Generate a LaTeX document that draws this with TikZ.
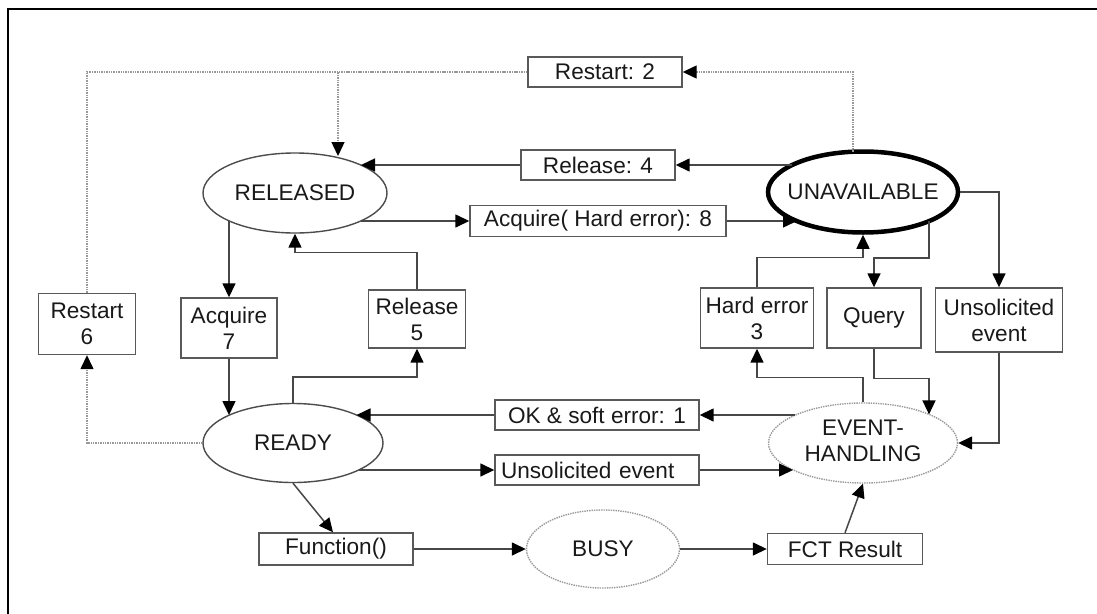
\documentclass[tikz,border=0pt]{standalone}
\usepackage{fontspec}
\setmainfont{Liberation Sans}
\usetikzlibrary{shapes.geometric,arrows.meta,calc}
\begin{document}
\begin{tikzpicture}[x=1pt,y=-1pt,
  font=\fontsize{22.6}{26}\selectfont,
  tip/.style={-{Triangle[length=14pt,width=13pt,color=black]}},
  line/.style={draw=black!72,line width=1.5pt},
  arr/.style={line,tip},
  dot/.style={draw=black!40,line width=1.4pt,densely dotted},
  box/.style={draw=black!65,line width=1.4pt,rectangle,inner sep=0pt,align=center,text=black!90},
  state/.style={ellipse,draw=black!70,line width=1.4pt,inner sep=0pt,text=black!90},
  dstate/.style={state,draw=black!40,densely dotted},
]
\useasboundingbox (0,0) rectangle (1097,613);
\draw[line width=2.5pt,line cap=rect] (8,613) -- (8,9) -- (1097,9);

% states
\node[state,minimum width=184pt,minimum height=80pt] (released) at (295,193) {\makebox[0pt]{RELEASED}};
\node[state,draw=black,line width=4.5pt,minimum width=190pt,minimum height=81pt] (unavail) at (863,192) {\makebox[0pt]{UNAVAILABLE}};
\node[state,minimum width=180pt,minimum height=79pt] (ready) at (293,443) {\makebox[0pt]{READY}};
\node[dstate,minimum width=189pt,minimum height=80pt] (event) at (863,443) {\makebox[0pt]{\begin{tabular}{@{}c@{}}EVENT-\\HANDLING\end{tabular}}};
\node[dstate,minimum width=153pt,minimum height=78pt] (busy) at (603,549) {\makebox[0pt]{BUSY}};

% transition boxes
\node[box,minimum width=154pt,minimum height=30pt] (r2) at (605,72) {Restart: 2};
\node[box,minimum width=154pt,minimum height=30pt] (r4) at (598,165) {Release: 4};
\node[box,minimum width=256pt,minimum height=31pt] (a8) at (598,221) {Acquire( Hard error): 8};
\node[box,minimum width=204pt,minimum height=30pt] (ok1) at (597,415) {OK \& soft error: 1};
\node[box,minimum width=204pt,minimum height=30pt,text width=192pt,align=left] (ue) at (597,470) {Unsolicited event};
\node[box,minimum width=154pt,minimum height=32pt] (fn) at (336,549) {Function()};
\node[box,minimum width=155pt,minimum height=31pt] (fct) at (845,549) {FCT Result};

\node[box,minimum width=97pt,minimum height=61pt] (rs6) at (87,324) {Restart\\6};
\node[box,minimum width=96pt,minimum height=60pt] (aq7) at (229,328) {Acquire\\7};
\node[box,minimum width=97pt,minimum height=58pt] (rl5) at (417,319) {Release\\5};
\node[box,minimum width=113pt,minimum height=60pt] (he3) at (757,318) {Hard error\\3};
\node[box,minimum width=94pt,minimum height=60pt] (qu) at (874,318) {Query};
\node[box,minimum width=127pt,minimum height=64pt] (ue2) at (999,320) {Unsolicited\\event};

% dotted restart paths
\draw[dot,tip] ($(unavail.center)+(-10,-40.3)$) |- (r2.east);
\draw[dot,tip] (r2.west) -| ($(released.center)+(43,-37)$);
\draw[dot,tip] (ready.west) -| (rs6.south);
\draw[dot] (rs6.north) |- (r2.west);

% upper transitions
\draw[arr] ($(unavail.center)+(-71,-27)$) -- (r4.east);
\draw[arr] (r4.west) -- ($(released.center)+(66,-28)$);
\draw[arr] ($(released.center)+(66,28)$) -- (a8.west);
\draw[arr] (a8.east) -- ($(unavail.center)+(-66,29)$);
\draw[arr] (unavail.east) -| (ue2.north);
\draw[arr] ($(unavail.center)+(66,29)$) -- ++(0,37) -| (qu.north);
\draw[arr] (he3.north) -- ++(0,-30) -| (unavail.south);

% left column
\draw[arr] ($(released.center)+(-66,28)$) -- (aq7.north);
\draw[arr] (aq7.south) -- ($(ready.center)+(-64,-28)$);
\draw[arr] (ready.north) -- ++(0,-26) -| (rl5.south);
\draw[arr] (rl5.north) -- ++(0,-37) -| (released.south);

% lower transitions
\draw[arr] ($(event.center)+(-68,-28)$) -- (ok1.east);
\draw[arr] (ok1.west) -- ($(ready.center)+(63.5,-28)$);
\draw[arr] ($(ready.center)+(66,27)$) -- (ue.west);
\draw[arr] (ue.east) -- ($(event.center)+(-70,27)$);
\draw[arr] (qu.south) -- ++(0,30) -| ($(event.center)+(66,-28.6)$);
\draw[arr] (ue2.south) |- (event.east);
\draw[arr] (event.north) -- ++(0,-25) -| (he3.south);

% bottom row
\draw[arr] (ready.south) -- ($(fn.north)+(-3,0)$);
\draw[arr] (fn.east) -- (busy.west);
\draw[arr] (busy.east) -- (fct.west);
\draw[arr] (fct.north) -- (event.south);
\end{tikzpicture}
\end{document}
